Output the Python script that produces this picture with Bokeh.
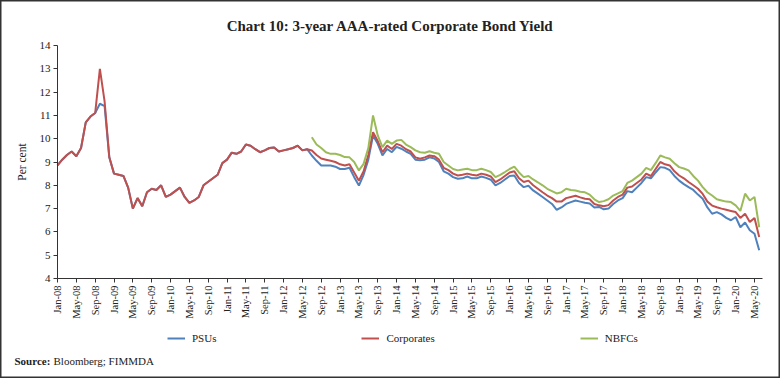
import math
from bokeh.plotting import figure
from bokeh.models import (Range1d, FixedTicker, Legend, LegendItem, Label, ColumnDataSource)
from bokeh.embed import file_html
from bokeh.resources import INLINE

# Monthly observations, Jan-2008 (index 0) .. Jun-2020 (index 149)
PSUS = [
    8.85, 9.10, 9.30, 9.45, 9.25, 9.60, 10.70, 10.95, 11.10, 11.50,
    11.40, 9.20, 8.50, 8.45, 8.40, 7.90, 7.00, 7.45, 7.10, 7.70,
    7.85, 7.80, 8.00, 7.50, 7.60, 7.75, 7.90, 7.50, 7.25, 7.35,
    7.50, 8.00, 8.15, 8.30, 8.45, 8.95, 9.10, 9.40, 9.35, 9.45,
    9.75, 9.70, 9.55, 9.42, 9.50, 9.60, 9.62, 9.45, 9.50, 9.55,
    9.60, 9.70, 9.50, 9.55, 9.28, 9.05, 8.85, 8.85, 8.85, 8.80,
    8.70, 8.70, 8.75, 8.35, 7.99, 8.45, 9.10, 10.14, 9.78, 9.28,
    9.56, 9.42, 9.65, 9.57, 9.45, 9.35, 9.10, 9.07, 9.10, 9.20,
    9.15, 9.00, 8.60, 8.50, 8.35, 8.28, 8.30, 8.38, 8.30, 8.30,
    8.38, 8.32, 8.24, 8.00, 8.10, 8.25, 8.40, 8.42, 8.10, 7.92,
    7.98, 7.78, 7.64, 7.50, 7.35, 7.20, 6.95, 7.05, 7.20, 7.28,
    7.35, 7.30, 7.25, 7.22, 7.05, 7.07, 6.97, 7.00, 7.20, 7.35,
    7.45, 7.75, 7.70, 7.90, 8.10, 8.35, 8.30, 8.55, 8.78, 8.75,
    8.65, 8.40, 8.20, 8.05, 7.92, 7.80, 7.60, 7.42, 7.05, 6.78,
    6.85, 6.75, 6.60, 6.50, 6.64, 6.20, 6.40, 6.07, 5.92, 5.21,
]
CORPORATES = [
    8.85, 9.10, 9.30, 9.45, 9.25, 9.60, 10.70, 10.95, 11.10, 13.00,
    11.60, 9.20, 8.50, 8.45, 8.40, 7.90, 7.00, 7.45, 7.10, 7.70,
    7.85, 7.80, 8.00, 7.50, 7.60, 7.75, 7.90, 7.50, 7.25, 7.35,
    7.50, 8.00, 8.15, 8.30, 8.45, 8.95, 9.10, 9.40, 9.35, 9.45,
    9.75, 9.70, 9.55, 9.42, 9.50, 9.60, 9.62, 9.45, 9.50, 9.55,
    9.60, 9.70, 9.50, 9.55, 9.49, 9.30, 9.15, 9.10, 9.05, 9.00,
    8.90, 8.85, 8.90, 8.55, 8.20, 8.60, 9.30, 10.28, 9.90, 9.42,
    9.70, 9.56, 9.78, 9.70, 9.55, 9.45, 9.20, 9.14, 9.20, 9.28,
    9.25, 9.10, 8.75, 8.65, 8.50, 8.42, 8.45, 8.50, 8.45, 8.42,
    8.50, 8.45, 8.38, 8.14, 8.25, 8.40, 8.55, 8.60, 8.30, 8.14,
    8.20, 8.00, 7.85, 7.70, 7.56, 7.45, 7.30, 7.30, 7.45, 7.50,
    7.55, 7.48, 7.42, 7.40, 7.20, 7.14, 7.10, 7.15, 7.35, 7.50,
    7.60, 7.90, 7.95, 8.10, 8.25, 8.50, 8.40, 8.70, 9.00, 8.90,
    8.85, 8.60, 8.42, 8.30, 8.14, 8.00, 7.85, 7.63, 7.30, 7.13,
    7.06, 7.00, 6.95, 6.90, 6.85, 6.60, 6.78, 6.42, 6.60, 5.78,
]
# NBFCs start in Jul-2012 (index 54)
NBFC_START = 54
NBFCS = [
    10.06, 9.75, 9.60, 9.42, 9.35, 9.35,
    9.30, 9.21, 9.20, 9.00, 8.64, 8.92, 9.60, 11.00, 10.14, 9.64,
    9.92, 9.78, 9.92, 9.95, 9.75, 9.64, 9.50, 9.42, 9.40, 9.46,
    9.40, 9.35, 9.00, 8.85, 8.70, 8.64, 8.68, 8.71, 8.65, 8.65,
    8.71, 8.65, 8.57, 8.35, 8.45, 8.57, 8.70, 8.80, 8.55, 8.35,
    8.40, 8.25, 8.13, 8.00, 7.85, 7.75, 7.65, 7.70, 7.85, 7.80,
    7.78, 7.72, 7.70, 7.60, 7.40, 7.28, 7.32, 7.40, 7.56, 7.65,
    7.75, 8.10, 8.20, 8.35, 8.50, 8.75, 8.65, 8.95, 9.28, 9.20,
    9.14, 8.95, 8.78, 8.72, 8.64, 8.40, 8.20, 7.92, 7.70, 7.56,
    7.40, 7.35, 7.30, 7.28, 7.14, 6.90, 7.64, 7.35, 7.50, 6.20,
]
TICK_LABELS = [
    "Jan-08", "May-08", "Sep-08", "Jan-09", "May-09", "Sep-09", "Jan-10", "May-10",
    "Sep-10", "Jan-11", "May-11", "Sep-11", "Jan-12", "May-12", "Sep-12", "Jan-13",
    "May-13", "Sep-13", "Jan-14", "May-14", "Sep-14", "Jan-15", "May-15", "Sep-15",
    "Jan-16", "May-16", "Sep-16", "Jan-17", "May-17", "Sep-17", "Jan-18", "May-18",
    "Sep-18", "Jan-19", "May-19", "Sep-19", "Jan-20", "May-20",
]
TICK_STEP = 4  # months between labels
Y_TICKS = list(range(4, 15))
SERIES_NAMES = ["PSUs", "Corporates", "NBFCs"]
COLORS = ["#4F81BD", "#C0504D", "#9BBB59"]

TITLE = "Chart 10: 3-year AAA-rated Corporate Bond Yield"
SOURCE_BOLD = "Source:"
SOURCE_TEXT = "Bloomberg; FIMMDA"

SERIF = "Liberation Serif"
TXT = "#222222"

W, H = 780, 378
X_END = 149.7          # axis end (months since Jan-08)
PX_X = 705 / X_END     # pixels per month
PX_Y = 23.3            # pixels per percentage point
LEFT, TOP = 57, 45
RIGHT = W - LEFT - 705
BOTTOM = H - TOP - 233

months = list(range(len(PSUS)))
src_main = ColumnDataSource(dict(x=months, psu=PSUS, corp=CORPORATES))
src_nbfc = ColumnDataSource(dict(x=list(range(NBFC_START, NBFC_START + len(NBFCS))), y=NBFCS))

p = figure(width=W, height=H, output_backend="svg", toolbar_location=None,
           x_range=Range1d(-LEFT / PX_X, X_END + RIGHT / PX_X),
           y_range=Range1d(Y_TICKS[0] - BOTTOM / PX_Y, Y_TICKS[-1] + TOP / PX_Y),
           min_border_left=0, min_border_right=0, min_border_top=0, min_border_bottom=0)
p.outline_line_color = "#333333"
p.outline_line_width = 2
p.xgrid.visible = False
p.ygrid.visible = False
p.background_fill_color = "white"
p.border_fill_color = "white"

r1 = p.line("x", "psu", source=src_main, color=COLORS[0], line_width=2)
r2 = p.line("x", "corp", source=src_main, color=COLORS[1], line_width=2)
r3 = p.line("x", "y", source=src_nbfc, color=COLORS[2], line_width=2)

# axes (drawn at fixed data locations inside the canvas)
tick_pos = [i * TICK_STEP for i in range(len(TICK_LABELS))]
xa = p.xaxis[0]
xa.fixed_location = Y_TICKS[0]
xa.bounds = (0, X_END)
xa.ticker = FixedTicker(ticks=tick_pos)
xa.major_label_overrides = {t: lab for t, lab in zip(tick_pos, TICK_LABELS)}
xa.major_label_orientation = math.pi / 2
xa.major_label_text_font_size = "10.5px"
ya = p.yaxis[0]
ya.fixed_location = 0
ya.bounds = (Y_TICKS[0], Y_TICKS[-1])
ya.ticker = FixedTicker(ticks=Y_TICKS)
ya.major_label_text_font_size = "11px"
ya.axis_label = "Per cent"
ya.axis_label_text_font = SERIF
ya.axis_label_text_font_size = "11.5px"
ya.axis_label_text_font_style = "normal"
ya.axis_label_text_color = TXT
ya.axis_label_standoff = 9
for ax in (xa, ya):
    ax.axis_line_color = "#333333"
    ax.major_tick_line_color = "#333333"
    ax.minor_tick_line_color = None
    ax.major_tick_in = 0
    ax.major_tick_out = 4
    ax.major_label_text_font = SERIF
    ax.major_label_text_color = TXT
    ax.major_label_standoff = 3

legend = Legend(items=[LegendItem(label=SERIES_NAMES[0], renderers=[r1]),
                       LegendItem(label=SERIES_NAMES[1], renderers=[r2]),
                       LegendItem(label=SERIES_NAMES[2], renderers=[r3])],
                orientation="horizontal", location=(167, H - 345),
                spacing=145, glyph_width=18, glyph_height=14, label_height=14,
                label_standoff=7, label_text_font=SERIF, label_text_font_size="11px",
                label_text_color=TXT, background_fill_alpha=0,
                border_line_color=None, padding=0, margin=0)
p.add_layout(legend, "center")

p.add_layout(Label(x=W / 2, y=H - 25, x_units="screen", y_units="screen", text=TITLE,
                   text_align="center", text_baseline="middle", text_font=SERIF,
                   text_font_size="15px", text_font_style="bold", text_color=TXT))
p.add_layout(Label(x=14, y=H - 360, x_units="screen", y_units="screen", text=SOURCE_BOLD,
                   text_align="left", text_baseline="middle", text_font=SERIF,
                   text_font_size="11px", text_font_style="bold", text_color=TXT))
p.add_layout(Label(x=53, y=H - 360, x_units="screen", y_units="screen", text=SOURCE_TEXT,
                   text_align="left", text_baseline="middle", text_font=SERIF,
                   text_font_size="11px", text_color=TXT))

open("out.html", "w").write(file_html(p, INLINE))
